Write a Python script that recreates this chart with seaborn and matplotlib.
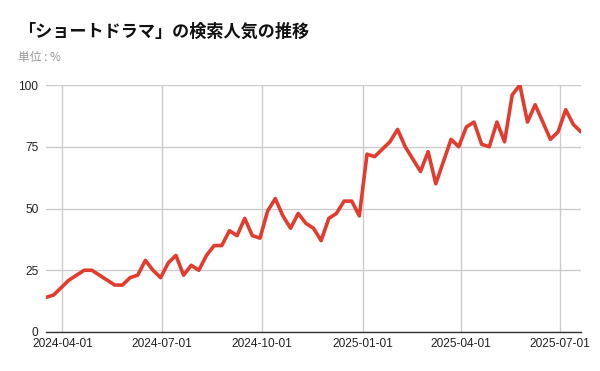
import matplotlib
matplotlib.use("Agg")
import matplotlib.pyplot as plt
import seaborn as sns
import pandas as pd

title = "「ショートドラマ」の検索人気の推移"
subtitle = "単位 : %"
start_week = "2024-03-17"
values = [14, 15, 18, 21, 23, 25, 25, 23, 21, 19,
          19, 22, 23, 29, 25, 22, 28, 31, 23, 27,
          25, 31, 35, 35, 41, 39, 46, 39, 38, 49,
          54, 47, 42, 48, 44, 42, 37, 46, 48, 53,
          53, 47, 72, 71, 74, 77, 82, 75, 70, 65,
          73, 60, 69, 78, 75, 83, 85, 76, 75, 85,
          77, 96, 100, 85, 92, 85, 78, 81, 90, 84, 81]
x_ticks = ["2024-04-01", "2024-07-01", "2024-10-01", "2025-01-01", "2025-04-01", "2025-07-01"]
y_ticks = [0, 25, 50, 75, 100]

dates = pd.date_range(start_week, periods=len(values), freq="W-SUN")
df = pd.DataFrame({"date": dates, "value": values})

sns.set_theme(style="white")
plt.rcParams["font.family"] = ["Liberation Sans", "Noto Sans CJK JP", "DejaVu Sans"]

fig = plt.figure(figsize=(6, 3.71), dpi=100)
ax = fig.add_axes([46 / 600, 1 - 332 / 371, 535 / 600, 247 / 371])

sns.lineplot(data=df, x="date", y="value", ax=ax, color="#e33b2e", linewidth=2.6)

ax.set_xlim(dates[0], dates[-1])
ax.set_ylim(0, 100)
ax.set_yticks(y_ticks)
ax.set_yticklabels([str(v) for v in y_ticks])
tick_dates = pd.to_datetime(x_ticks)
ax.set_xticks(tick_dates)
ax.set_xticklabels(x_ticks)
ax.grid(True, color="#cccccc", linewidth=1)
ax.set_axisbelow(True)
for s in ["top", "right", "left"]:
    ax.spines[s].set_visible(False)
ax.spines["bottom"].set_color("#333333")
ax.spines["bottom"].set_linewidth(1)
ax.tick_params(axis="both", length=0, labelsize=8.6, colors="#222222")
ax.tick_params(axis="y", pad=5.5)
ax.tick_params(axis="x", pad=4.5)
ax.set_xlabel("")
ax.set_ylabel("")

fig.text(18 / 600, 1 - 32 / 371, title, fontsize=12.3, fontweight="bold",
         family=["Noto Sans CJK JP", "DejaVu Sans"], color="#111111", va="center", ha="left")
fig.text(18 / 600, 1 - 57 / 371, subtitle, fontsize=8.5, family=["Noto Sans CJK JP", "DejaVu Sans"],
         color="#999999", va="center", ha="left")

fig.savefig("out.png", dpi=100)
